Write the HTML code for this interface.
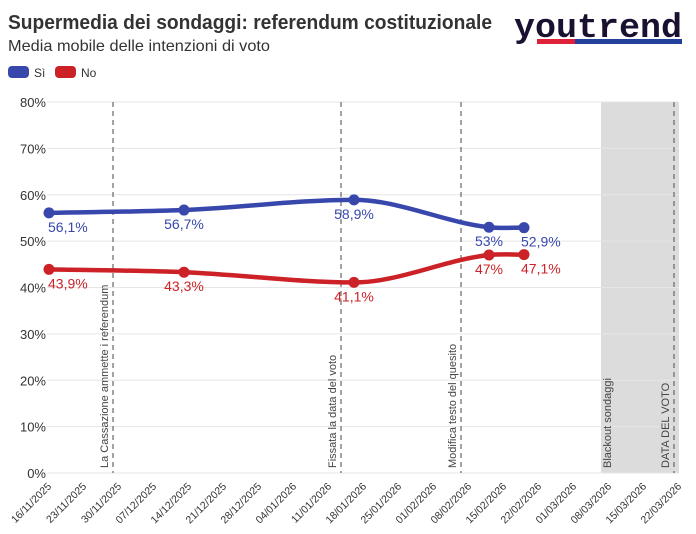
<!DOCTYPE html>
<html><head><meta charset="utf-8">
<style>
html,body{margin:0;padding:0;background:#fff;}
svg{display:block;font-family:"Liberation Sans",sans-serif;}
</style></head>
<body>
<svg id="chart" width="696" height="534" viewBox="0 0 696 534">
  <text x="8" y="29" font-size="20" font-weight="bold" fill="#333" textLength="484" lengthAdjust="spacingAndGlyphs">Supermedia dei sondaggi: referendum costituzionale</text>
  <text x="8" y="51" font-size="16" fill="#333" textLength="262" lengthAdjust="spacingAndGlyphs">Media mobile delle intenzioni di voto</text>
  <g>
    <text x="514" y="37" font-family="Liberation Mono,monospace" font-size="34" font-weight="bold" fill="#1a1030" textLength="168" lengthAdjust="spacingAndGlyphs">youtrend</text>
    <rect x="537" y="39" width="38" height="5" fill="#e0213a"/>
    <rect x="575" y="39" width="107" height="5" fill="#23419a"/>
  </g>
  <g>
    <rect x="8" y="66" width="21" height="12" rx="4" fill="#3747ac"/>
    <text x="34" y="77" font-size="12" fill="#333">Sì</text>
    <rect x="55" y="66" width="21" height="12" rx="4" fill="#cc2127"/>
    <text x="81" y="77" font-size="12" fill="#333">No</text>
  </g>
  <g id="plot"></g>
</svg>
<script>
const tickDates = ["16/11/2025","23/11/2025","30/11/2025","07/12/2025","14/12/2025","21/12/2025","28/12/2025","04/01/2026","11/01/2026","18/01/2026","25/01/2026","01/02/2026","08/02/2026","15/02/2026","22/02/2026","01/03/2026","08/03/2026","15/03/2026","22/03/2026"];
const yTicks = [0,10,20,30,40,50,60,70,80];
const pointDays = [0,27,61,88,95];
const siValues = [56.1,56.7,58.9,53,52.9];
const noValues = [43.9,43.3,41.1,47,47.1];
const siLabels = ["56,1%","56,7%","58,9%","53%","52,9%"];
const noLabels = ["43,9%","43,3%","41,1%","47%","47,1%"];
const eventDays = [12.8,58.4,82.4];
const eventLabels = ["La Cassazione ammette i referendum","Fissata la data del voto","Modifica testo del quesito"];
const blackoutStart = 110.4, voteDay = 125;

const NS="http://www.w3.org/2000/svg";
const g=document.getElementById('plot');
const x=d=>49+d*5;
const y=v=>473-v*(371/80);
function el(t,a,p){const e=document.createElementNS(NS,t);for(const k in a)e.setAttribute(k,a[k]);(p||g).appendChild(e);return e;}

let r=el('rect',{x:x(blackoutStart),y:102,width:x(126)-x(blackoutStart),height:371,fill:'#dcdcdc'});


yTicks.forEach(v=>{
  const l=el('line',{x1:47,x2:679,y1:y(v),y2:y(v),stroke:'#e6e6e6','stroke-width':1});
  
  
  const t=el('text',{x:46,y:y(v)+5,'font-size':13,fill:'#333','text-anchor':'end'});
  t.textContent=v+'%';
  
  
});
tickDates.forEach((d,i)=>{
  const xx=x(i*7);
  const t=el('text',{x:xx+3,y:487,'font-size':10.5,fill:'#333','text-anchor':'end',transform:`rotate(-45 ${xx+3} 487)`});
  t.textContent=d;
  
  
});
function vline(d,label,name){
  const xx=x(d);
  const l=el('line',{x1:xx,x2:xx,y1:102,y2:473,stroke:'#666','stroke-width':1.2,'stroke-dasharray':'5,4'});
  
  
  const t=el('text',{x:xx-5,y:468,'font-size':11,fill:'#444',transform:`rotate(-90 ${xx-5} 468)`});
  t.textContent=label;
  
  
}
eventDays.forEach((d,i)=>vline(d,eventLabels[i],'event-line'));
vline(voteDay,'DATA DEL VOTO','vote-day-line');
{const xx=x(blackoutStart)+10;const t=el('text',{x:xx,y:468,'font-size':11,fill:'#444',transform:`rotate(-90 ${xx} 468)`});t.textContent='Blackout sondaggi';

}

function path(vals){
  const P=pointDays.map((d,i)=>[x(d),y(vals[i])]);const n=P.length;
  const s=[],m=[];
  for(let i=0;i<n-1;i++)s.push((P[i+1][1]-P[i][1])/(P[i+1][0]-P[i][0]));
  m[0]=s[0];m[n-1]=s[n-2];
  for(let i=1;i<n-1;i++)m[i]=s[i-1]*s[i]<=0?0:(s[i-1]+s[i])/2;
  let d=`M${P[0][0]},${P[0][1]}`;
  for(let i=0;i<n-1;i++){const h=(P[i+1][0]-P[i][0])/3;
    d+=`C${P[i][0]+h},${P[i][1]+m[i]*h} ${P[i+1][0]-h},${P[i+1][1]-m[i+1]*h} ${P[i+1][0]},${P[i+1][1]}`;}
  return d;
}
function series(vals,labels,color,name){
  const p=el('path',{d:path(vals),fill:'none',stroke:color,'stroke-width':4.5});
  
  
  vals.forEach((v,i)=>{
    const c=el('circle',{cx:x(pointDays[i]),cy:y(v),r:5.5,fill:color});
    
    
    const last=i===vals.length-1;
    const t=el('text',{x:x(pointDays[i])+(last?-3:(i===0?-1:0)),y:y(v)+19,'font-size':14,fill:color,'text-anchor':i===0?'start':(last?'start':'middle')});
    t.textContent=labels[i];
    
    
  });
}
series(siValues,siLabels,'#3747ac','si');
series(noValues,noLabels,'#cc2127','no');
</script>
</body></html>
